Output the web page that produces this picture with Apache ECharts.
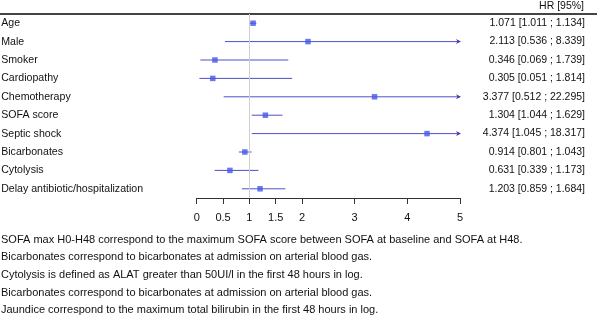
<!DOCTYPE html>
<html lang="en">
<head>
    <meta charset="UTF-8">
    <title>Forest plot HR [95%]</title>
    <script src="https://cdn.jsdelivr.net/npm/echarts@6/dist/echarts.min.js"></script>
    <style>
        html, body { margin: 0; padding: 0; background: #fff; }
    </style>
</head>
<body>
    <div id="main" style="width: 597px; height: 324px"></div>
    <script type="text/javascript">
        var variables = ['Age', 'Male', 'Smoker', 'Cardiopathy', 'Chemotherapy', 'SOFA score',
            'Septic shock', 'Bicarbonates', 'Cytolysis', 'Delay antibiotic/hospitalization'];
        var hr = [1.071, 2.113, 0.346, 0.305, 3.377, 1.304, 4.374, 0.914, 0.631, 1.203];
        var lower = [1.011, 0.536, 0.069, 0.051, 0.512, 1.044, 1.045, 0.801, 0.339, 0.859];
        var upper = [1.134, 8.339, 1.739, 1.814, 22.295, 1.629, 18.317, 1.043, 1.173, 1.684];
        var xTicks = [0, 0.5, 1, 1.5, 2, 3, 4, 5];
        var notes = [
            'SOFA max H0-H48 correspond to the maximum SOFA score between SOFA at baseline and SOFA at H48.',
            'Bicarbonates correspond to bicarbonates at admission on arterial blood gas.',
            'Cytolysis is defined as ALAT greater than 50UI/l in the first 48 hours in log.',
            'Bicarbonates correspond to bicarbonates at admission on arterial blood gas.',
            'Jaundice correspond to the maximum total bilirubin in the first 48 hours in log.'
        ];

        var font = '"Liberation Sans", Arial, Helvetica, sans-serif';
        var xMax = 5;

        var hrText = variables.map(function (v, i) {
            return hr[i].toFixed(3) + ' [' + lower[i].toFixed(3) + ' ; ' + upper[i].toFixed(3) + ']';
        });

        var ciData = variables.map(function (v, i) { return [lower[i], upper[i], i]; });
        var pointData = variables.map(function (v, i) { return [hr[i], i]; });

        var noteGraphics = notes.map(function (t, i) {
            return {
                type: 'text', left: 1, top: 234 + i * 17.7,
                style: { text: t, font: '11px ' + font, fill: '#111' }
            };
        });

        var option = {
            animation: false,
            grid: { left: 196.7, right: 137, top: 14, height: 184, outerBoundsMode: 'none', containLabel: false },
            xAxis: {
                type: 'value', min: 0, max: xMax,
                splitLine: { show: false },
                axisLine: { show: true, lineStyle: { color: '#333', width: 1 } },
                axisTick: { show: true, length: 6, customValues: xTicks, lineStyle: { color: '#333' } },
                axisLabel: { customValues: xTicks, margin: 14, color: '#111', fontSize: 11, fontFamily: font }
            },
            yAxis: [{
                type: 'category', data: variables, inverse: true,
                axisLine: { show: false }, axisTick: { show: false },
                axisLabel: { align: 'left', margin: 195.5, color: '#111', fontSize: 10.6, fontFamily: font }
            }, {
                type: 'category', data: hrText, inverse: true, position: 'right',
                axisLine: { show: false }, axisTick: { show: false },
                axisLabel: { align: 'right', margin: 125, color: '#111', fontSize: 10.5, fontFamily: font }
            }],
            graphic: [
                { type: 'line', shape: { x1: 0, y1: 14, x2: 597, y2: 14 }, style: { stroke: '#444', lineWidth: 2 } },
                { type: 'text', right: 13, top: 1, style: { text: 'HR [95%]', font: '10.5px ' + font, fill: '#111' } }
            ].concat(noteGraphics),
            series: [{
                type: 'custom',
                data: ciData,
                encode: { x: [0, 1], y: 2 },
                renderItem: function (params, api) {
                    var lo = api.value(0), hi = api.value(1), idx = api.value(2);
                    var p1 = api.coord([lo, idx]);
                    var p2 = api.coord([Math.min(hi, xMax), idx]);
                    var style = { stroke: '#5050c8', lineWidth: 1 };
                    var children = [{ type: 'line', shape: { x1: p1[0], y1: p1[1], x2: p2[0], y2: p2[1] }, style: style }];
                    if (hi > xMax) {
                        children.push({
                            type: 'polygon',
                            shape: { points: [[p2[0] - 4, p2[1] - 2.5], [p2[0] + 1, p2[1]], [p2[0] - 4, p2[1] + 2.5], [p2[0] - 2.5, p2[1]]] },
                            style: { fill: '#4a3aa8', stroke: 'none' }
                        });
                    }
                    return { type: 'group', children: children };
                }
            }, {
                type: 'scatter',
                data: pointData,
                symbol: 'rect', symbolSize: 5.5,
                itemStyle: { color: '#4458e8' },
                z: 5
            }, {
                type: 'line',
                data: [],
                markLine: {
                    silent: true, symbol: 'none', label: { show: false },
                    lineStyle: { color: '#d0d0d0', width: 1, type: 'solid' },
                    data: [{ xAxis: 1 }]
                }
            }]
        };

        var chart = echarts.init(document.getElementById('main'));
        chart.setOption(option);
    </script>
</body>
</html>
